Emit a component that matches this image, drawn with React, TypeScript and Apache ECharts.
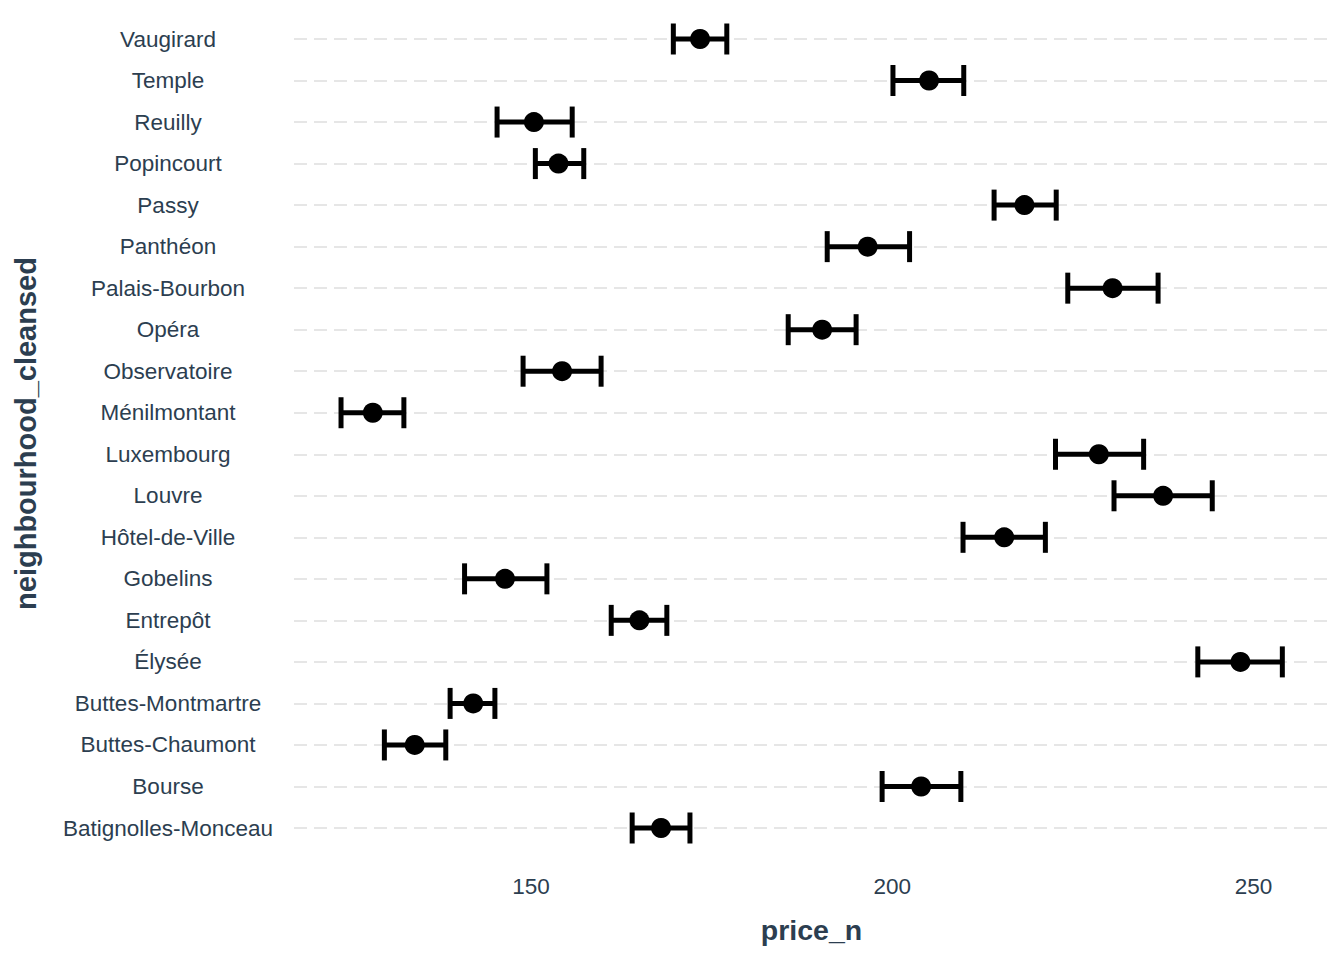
import React, { useEffect, useRef } from "react";
import * as echarts from "echarts";

// Categories listed bottom-to-top (as the y axis draws them)
const neighbourhoods = [
  "Batignolles-Monceau", "Bourse", "Buttes-Chaumont", "Buttes-Montmartre", "Élysée",
  "Entrepôt", "Gobelins", "Hôtel-de-Ville", "Louvre", "Luxembourg",
  "Ménilmontant", "Observatoire", "Opéra", "Palais-Bourbon", "Panthéon",
  "Passy", "Popincourt", "Reuilly", "Temple", "Vaugirard",
];
const priceMean = [
  168.0, 204.0, 133.9, 142.0, 248.2,
  165.0, 146.4, 215.5, 237.5, 228.6,
  128.1, 154.3, 190.3, 230.5, 196.6,
  218.3, 153.8, 150.4, 205.1, 173.4,
];
const priceLow = [
  164.0, 198.6, 129.7, 138.8, 242.3,
  161.1, 140.8, 209.8, 230.7, 222.6,
  123.7, 148.9, 185.6, 224.3, 191.0,
  214.1, 150.6, 145.3, 200.1, 169.7,
];
const priceHigh = [
  172.0, 209.5, 138.2, 145.0, 254.0,
  168.8, 152.2, 221.2, 244.3, 234.8,
  132.4, 159.7, 195.0, 236.8, 202.4,
  222.7, 157.3, 155.7, 209.9, 177.1,
];
const xTicks = [150, 200, 250];
const xMin = 117.19;
const xMax = 260.46;

const TEXT = "#2C3E50";
const FONT = "'Liberation Sans', Arial, sans-serif";

export default function App() {
  const ref = useRef<HTMLDivElement>(null);
  useEffect(() => {
    document.body.style.margin = "0";
    const chart = echarts.init(ref.current!, null, { renderer: "svg" });
    const errData = neighbourhoods.map((_, i) => [priceLow[i], priceHigh[i], i]);
    const ptData = neighbourhoods.map((_, i) => [priceMean[i], i]);
    chart.setOption({
      animation: false,
      backgroundColor: "#ffffff",
      textStyle: { fontFamily: FONT },
      grid: { left: 294, right: 15, top: 39, bottom: 132 },
      xAxis: {
        type: "value",
        min: xMin,
        max: xMax,
        name: "price_n",
        nameLocation: "middle",
        nameGap: 87,
        nameTextStyle: { color: TEXT, fontSize: 28.5, fontWeight: "bold", fontFamily: FONT },
        axisLine: { show: false },
        axisTick: { show: false },
        splitLine: { show: false },
        axisLabel: {
          customValues: xTicks,
          color: TEXT,
          fontSize: 22.5,
          margin: 47,
          fontFamily: FONT,
        },
      },
      yAxis: {
        type: "category",
        data: neighbourhoods,
        boundaryGap: false,
        name: "neighbourhood_cleansed",
        nameLocation: "middle",
        nameRotate: 90,
        nameGap: 254,
        nameTextStyle: { color: TEXT, fontSize: 29, fontWeight: "bold", fontFamily: FONT },
        axisLine: { show: false },
        axisTick: { show: false },
        axisLabel: {
          color: TEXT,
          fontSize: 22.5,
          align: "center",
          margin: 126,
          padding: [3, 0, 0, 0],
          fontFamily: FONT,
        },
        splitLine: {
          show: true,
          lineStyle: { color: "#E6E6E6", width: 2, type: [13, 7] },
        },
      },
      series: [
        {
          type: "custom",
          data: errData,
          encode: { x: [0, 1], y: 2 },
          renderItem: (params: any, api: any) => {
            const lo = api.coord([api.value(0), api.value(2)]);
            const hi = api.coord([api.value(1), api.value(2)]);
            const h = 15.5;
            const style = { stroke: "#000000", lineWidth: 5, fill: null };
            return {
              type: "group",
              children: [
                { type: "line", shape: { x1: lo[0], y1: lo[1], x2: hi[0], y2: hi[1] }, style },
                { type: "line", shape: { x1: lo[0], y1: lo[1] - h, x2: lo[0], y2: lo[1] + h }, style },
                { type: "line", shape: { x1: hi[0], y1: hi[1] - h, x2: hi[0], y2: hi[1] + h }, style },
              ],
            };
          },
          z: 2,
        },
        {
          type: "scatter",
          data: ptData,
          symbol: "circle",
          symbolSize: 20,
          itemStyle: { color: "#000000", opacity: 1 },
          z: 3,
        },
      ],
    });
    return () => chart.dispose();
  }, []);
  return <div ref={ref} style={{ width: 1344, height: 960 }} />;
}
